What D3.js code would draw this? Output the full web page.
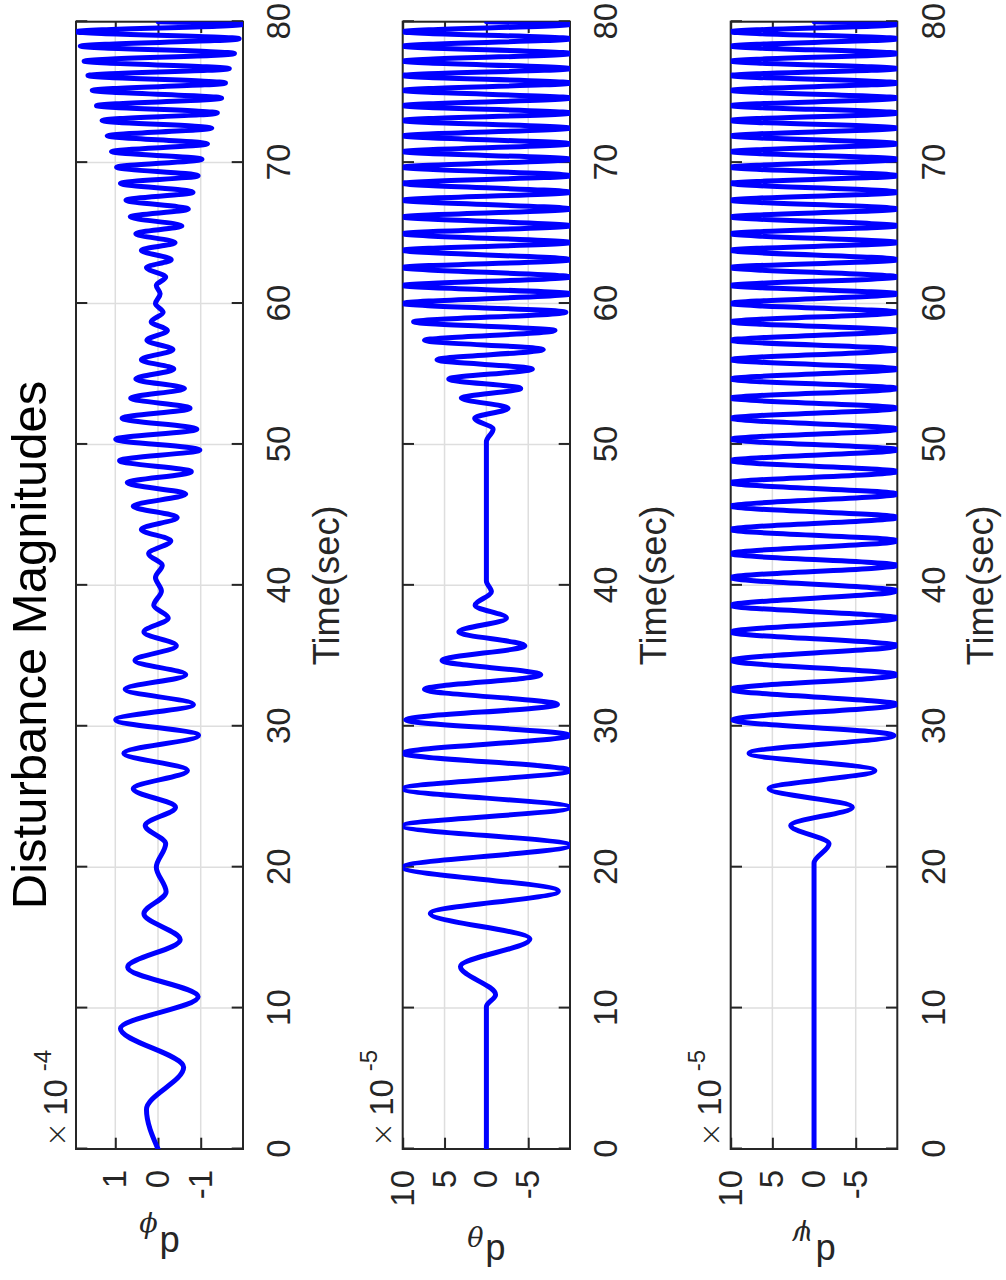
<!DOCTYPE html>
<html>
<head>
<meta charset="utf-8">
<script src="https://cdn.jsdelivr.net/npm/d3@7"></script>
<style>
  body { margin: 0; background: #fff; }
  svg { display: block; }
</style>
</head>
<body>
<svg id="fig" width="1006" height="1280"></svg>
<script>
// Shared tick values
const timeTicks = [0, 10, 20, 30, 40, 50, 60, 70, 80];
const phiTicks = [1, 0, -1];
const thetaTicks = [10, 5, 0, -5];
const psiTicks = [10, 5, 0, -5];

// Roll disturbance d_phi (x 1e-4): [time (s), value]
const phiSeries = [
  [0, 0], [2.8, 0.27], [5.8, -0.60], [8.55, 0.88], [10.8, -0.94], [12.9, 0.71],
  [14.85, -0.52], [16.7, 0.33], [18.25, -0.19], [20.0, 0.04], [21.66, -0.18],
  [22.96, 0.30], [24.26, -0.41], [25.56, 0.58], [26.86, -0.69], [28.09, 0.80],
  [29.35, -0.95], [30.46, 0.99], [31.55, -0.83], [32.62, 0.77], [33.65, -0.65],
  [34.67, 0.54], [35.72, -0.43], [36.69, 0.33], [37.68, -0.24], [38.58, 0.10],
  [39.6, -0.08], [40.55, 0.06], [41.42, -0.10], [42.25, 0.22], [43.16, -0.30],
  [43.96, 0.39], [44.82, -0.45], [45.62, 0.58], [46.48, -0.65], [47.28, 0.72],
  [48.07, -0.78], [48.85, 0.90], [49.61, -0.98], [50.37, 0.99], [51.08, -0.91],
  [51.86, 0.84], [52.57, -0.75], [53.29, 0.64], [53.97, -0.62], [54.64, 0.52],
  [55.35, -0.37], [56.01, 0.39], [56.73, -0.35], [57.39, 0.26], [58.08, -0.22],
  [58.70, 0.16], [59.38, -0.12], [60.0, 0.06], [60.69, -0.05], [61.28, 0.04],
  [61.88, -0.18], [62.55, 0.27], [63.11, -0.31], [63.78, 0.39], [64.32, -0.40],
  [64.96, 0.52], [65.51, -0.56], [66.15, 0.65], [66.70, -0.71], [67.34, 0.75],
  [67.89, -0.82], [68.53, 0.88], [69.07, -0.94], [69.67, 0.97], [70.24, -1.03],
  [70.78, 1.09], [71.33, -1.16], [71.90, 1.19], [72.45, -1.26], [72.99, 1.31],
  [73.52, -1.39], [74.04, 1.44], [74.58, -1.49], [75.13, 1.54], [75.65, -1.58],
  [76.18, 1.64], [76.67, -1.67], [77.20, 1.73], [77.74, -1.79], [78.27, 1.82],
  [78.79, -1.90], [79.29, 1.92], [79.81, -1.99], [80, 0]
];

// Pitch disturbance d_theta (x 1e-5)
const thetaSeries = [
  [0, 0], [10.1, 0], [10.95, -1.1], [12.95, 3.1], [14.9, -5.2], [16.72, 6.7],
  [18.3, -8.6], [20.0, 10], [21.55, -10], [22.93, 10], [24.24, -10], [25.56, 10],
  [26.86, -10], [28.09, 10], [29.35, -10], [30.46, 9.65], [31.55, -8.5],
  [32.62, 7.4], [33.65, -6.5], [34.67, 5.3], [35.72, -4.6], [36.69, 3.3],
  [37.68, -2.4], [38.58, 1.35], [39.55, -0.6], [40.3, 0], [50.2, 0],
  [51.08, -0.8], [51.86, 1.4], [52.57, -2.6], [53.29, 3.0], [53.97, -4.1],
  [54.64, 4.5], [55.35, -5.5], [56.01, 5.9], [56.73, -6.8], [57.39, 7.4],
  [58.08, -8.2], [58.70, 8.7], [59.38, -9.5], [60.0, 10], [60.69, -10],
  [61.28, 10], [61.88, -10], [62.55, 10], [63.11, -10], [63.78, 10], [64.32, -10],
  [64.96, 10], [65.51, -10], [66.15, 10], [66.70, -10], [67.34, 10], [67.89, -10],
  [68.53, 10], [69.07, -10], [69.67, 10], [70.24, -10], [70.78, 10], [71.33, -10],
  [71.90, 10], [72.45, -10], [72.99, 10], [73.52, -10], [74.04, 10], [74.58, -10],
  [75.13, 10], [75.65, -10], [76.18, 10], [76.67, -10], [77.20, 10], [77.74, -10],
  [78.27, 10], [78.79, -10], [79.29, 10], [79.81, -10], [80, 0]
];

// Yaw disturbance d_psi (x 1e-5)
const psiSeries = [
  [0, 0], [20.3, 0], [21.66, -1.8], [22.96, 2.8], [24.26, -4.6], [25.56, 5.4],
  [26.86, -7.3], [28.09, 7.8], [29.35, -9.6], [30.46, 9.8], [31.55, -10],
  [32.62, 10], [33.65, -10], [34.67, 10], [35.72, -10], [36.69, 10], [37.68, -10],
  [38.58, 10], [39.6, -10], [40.55, 10], [41.42, -10], [42.25, 10], [43.16, -10],
  [43.96, 10], [44.82, -10], [45.62, 10], [46.48, -10], [47.28, 10], [48.07, -10],
  [48.85, 10], [49.61, -10], [50.37, 10], [51.08, -10], [51.86, 10], [52.57, -10],
  [53.29, 10], [53.97, -10], [54.64, 10], [55.35, -10], [56.01, 10], [56.73, -10],
  [57.39, 10], [58.08, -10], [58.70, 10], [59.38, -10], [60.0, 10], [60.69, -10],
  [61.28, 10], [61.88, -10], [62.55, 10], [63.11, -10], [63.78, 10], [64.32, -10],
  [64.96, 10], [65.51, -10], [66.15, 10], [66.70, -10], [67.34, 10], [67.89, -10],
  [68.53, 10], [69.07, -10], [69.67, 10], [70.24, -10], [70.78, 10], [71.33, -10],
  [71.90, 10], [72.45, -10], [72.99, 10], [73.52, -10], [74.04, 10], [74.58, -10],
  [75.13, 10], [75.65, -10], [76.18, 10], [76.67, -10], [77.20, 10], [77.74, -10],
  [78.27, 10], [78.79, -10], [79.29, 10], [79.81, -10], [80, 0]
];

const panels = [
  { id: "phi",   data: phiSeries,   domain: [-1.99, 1.92], ticks: phiTicks,   exp: "-4", sym: "\u03D5", top: 76,    bottom: 243 },
  { id: "theta", data: thetaSeries, domain: [-9.99, 10.0], ticks: thetaTicks, exp: "-5", sym: "\u03B8", top: 402.7, bottom: 570 },
  { id: "psi",   data: psiSeries,   domain: [-9.99, 10.0], ticks: psiTicks,   exp: "-5", sym: "\u03C8", top: 730.7, bottom: 897.3 }
];

// The figure is laid out landscape (1280 x 1006) and turned a quarter turn counter-clockwise.
const FW = 1280;
const axColor = "#262626";
const gridColor = "#dedede";
const sans = "'Liberation Sans', Arial, Helvetica, sans-serif";
const tickLen = 11.3;
const plainNum = d => String(d);   // hyphen-minus, as in the plotted labels

const svg = d3.select("#fig");
const fig = svg.append("g").attr("transform", `translate(0,${FW}) rotate(-90)`);

const x = d3.scaleLinear().domain([0, 80]).range([131, 1258.3]);

fig.append("text")
  .attr("x", 635).attr("y", 46)
  .attr("text-anchor", "middle")
  .attr("font-family", sans).attr("font-size", 49)
  .attr("fill", "#000")
  .text("Disturbance Magnitudes");

panels.forEach((p, i) => {
  const y = d3.scaleLinear().domain(p.domain).range([p.bottom, p.top]);
  const g = fig.append("g").attr("class", "panel-" + p.id);
  const [x0, x1] = x.range();

  // grid
  g.append("g").selectAll("line").data(timeTicks).join("line")
    .attr("x1", d => x(d)).attr("x2", d => x(d))
    .attr("y1", p.top).attr("y2", p.bottom)
    .attr("stroke", gridColor).attr("stroke-width", 1.5);
  g.append("g").selectAll("line").data(p.ticks).join("line")
    .attr("x1", x0).attr("x2", x1)
    .attr("y1", d => y(d)).attr("y2", d => y(d))
    .attr("stroke", gridColor).attr("stroke-width", 1.5);

  // axes with inward ticks
  const styleAxis = sel => {
    sel.select(".domain").remove();
    sel.selectAll(".tick line").attr("stroke", axColor).attr("stroke-width", 2);
    sel.selectAll(".tick text").attr("fill", axColor);
    sel.attr("font-family", sans).attr("font-size", 33);
  };
  g.append("g").attr("transform", `translate(0,${p.bottom})`)
    .call(d3.axisBottom(x).tickValues(timeTicks).tickFormat(plainNum)
      .tickSize(-tickLen).tickPadding(24))
    .call(styleAxis);
  g.append("g").attr("transform", `translate(0,${p.top})`)
    .call(d3.axisTop(x).tickValues(timeTicks).tickFormat(() => "").tickSize(-tickLen))
    .call(styleAxis);
  g.append("g").attr("transform", `translate(${x0},0)`)
    .call(d3.axisLeft(y).tickValues(p.ticks).tickFormat(plainNum)
      .tickSize(-tickLen).tickPadding(21))
    .call(styleAxis);
  g.append("g").attr("transform", `translate(${x1},0)`)
    .call(d3.axisRight(y).tickValues(p.ticks).tickFormat(() => "").tickSize(-tickLen))
    .call(styleAxis);

  // box
  g.append("rect")
    .attr("x", x0).attr("y", p.top)
    .attr("width", x1 - x0).attr("height", p.bottom - p.top)
    .attr("fill", "none").attr("stroke", axColor).attr("stroke-width", 2);

  // data line, clipped to the plot box
  const clipId = "clip-" + p.id;
  g.append("clipPath").attr("id", clipId).append("rect")
    .attr("x", x0).attr("y", p.top)
    .attr("width", x1 - x0).attr("height", p.bottom - p.top);
  const line = d3.line()
    .x(d => x(d[0])).y(d => y(d[1]))
    .curve(d3.curveMonotoneX);
  g.append("path")
    .datum(p.data)
    .attr("clip-path", `url(#${clipId})`)
    .attr("d", line)
    .attr("fill", "none")
    .attr("stroke", "#0000ff")
    .attr("stroke-width", 5)
    .attr("stroke-linejoin", "round")
    .attr("stroke-linecap", "round");

  // axis multiplier
  const ex = g.append("text")
    .attr("x", x0).attr("y", p.top - 9.5)
    .attr("font-family", sans).attr("font-size", 33)
    .attr("fill", axColor);
  ex.append("tspan").attr("font-family", "'DejaVu Sans', sans-serif").attr("font-weight", 300)
    .attr("font-size", 30).attr("dx", 2).text("\u00D7");
  ex.append("tspan").attr("dx", 6).text("10");
  ex.append("tspan").attr("font-size", 24).attr("dx", 8).attr("dy", -16).text(p.exp);

  // x label
  g.append("text")
    .attr("x", (x0 + x1) / 2).attr("y", p.bottom + 96)
    .attr("text-anchor", "middle")
    .attr("font-family", sans).attr("font-size", 36.3)
    .attr("fill", axColor)
    .text("Time(sec)");

  // y label: d with a Greek subscript
  const lx = i === 0 ? 48 : 40;
  const cy = (p.top + p.bottom) / 2;
  const yl = g.append("text")
    .attr("transform", `translate(${lx},${cy}) rotate(-90)`)
    .attr("text-anchor", "middle")
    .attr("font-family", sans).attr("font-size", 36.3)
    .attr("fill", axColor);
  yl.append("tspan").text("d");
  yl.append("tspan")
    .attr("font-family", "'DejaVu Serif', 'Liberation Serif', serif")
    .attr("font-style", "italic")
    .attr("font-size", 27)
    .attr("dx", 2).attr("dy", 14)
    .text(p.sym);
});
</script>
</body>
</html>
